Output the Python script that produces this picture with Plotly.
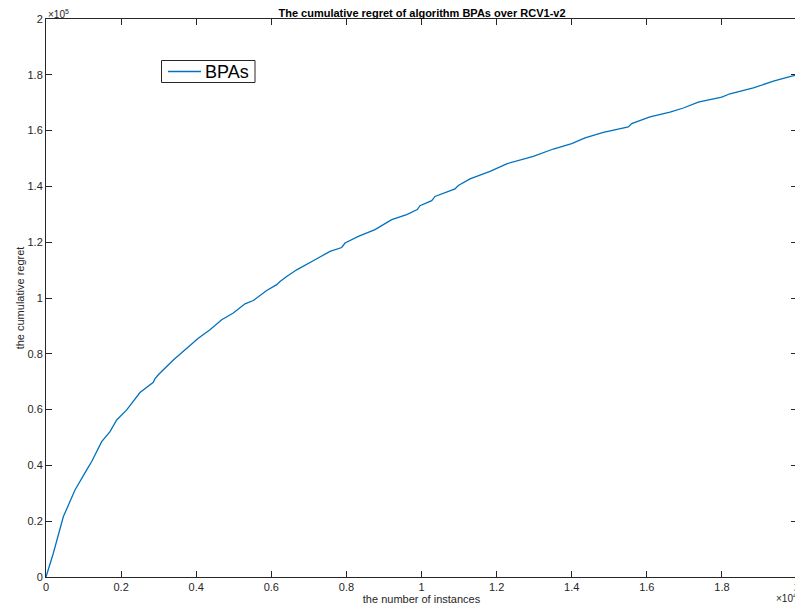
import plotly.graph_objects as go

# number of instances
instances = [0, 195, 461, 772, 1084, 1217, 1483, 1704, 1883, 2149, 2503, 2858, 2900, 2991,
             3391, 3747, 4056, 4367, 4679, 4988, 5300, 5521, 5877, 6144, 6232, 6410, 6676,
             7164, 7563, 7875, 7963, 8318, 8762, 9206, 9606, 9889, 9960, 10272, 10360,
             10892, 10981, 11292, 11825, 12269, 12977, 13511, 14000, 14355, 14843, 15508,
             15597, 16085, 16618, 16973, 17372, 17995, 18217, 18838, 19371, 19860, 20000]
# cumulative regret
regret = [0, 8500, 21600, 31200, 38400, 41400, 48500, 52100, 56300, 59900, 66100, 69800, 71000, 72500,
          77800, 82000, 85600, 88600, 92200, 94600, 97900, 99100, 102700, 104800, 105900, 107700, 110100,
          113700, 116700, 118100, 119700, 122100, 124500, 128100, 129900, 131700, 133100, 134900, 136400,
          139100, 140300, 142700, 145400, 148100, 150800, 153400, 155300, 157400, 159400, 161300,
          162500, 164900, 166600, 168100, 170200, 172000, 173200, 175300, 177700, 179500, 180000]

x_tickvals = [0, 2000, 4000, 6000, 8000, 10000, 12000, 14000, 16000, 18000, 20000]
x_ticktext = ["0", "0.2", "0.4", "0.6", "0.8", "1", "1.2", "1.4", "1.6", "1.8", "2"]
y_tickvals = [0, 20000, 40000, 60000, 80000, 100000, 120000, 140000, 160000, 180000, 200000]
y_ticktext = ["0", "0.2", "0.4", "0.6", "0.8", "1", "1.2", "1.4", "1.6", "1.8", "2"]
series_name = "BPAs"

FONT = "Liberation Sans, Arial, Helvetica, sans-serif"
AX = "#262626"
LINE = "#0072BD"

# The page body has an 8px margin, so the figure is drawn 8px in from the window edge.
W, H = 795, 602
ML, MR, MT, MB = 38, 6, 11, 33
PW, PH = W - ML - MR, H - MT - MB


def px(xp):  # window pixel x -> paper x
    return (xp - 8 - ML) / PW


def py(yp):  # window pixel y -> paper y
    return 1 - (yp - 8 - MT) / PH


fig = go.Figure()
fig.add_trace(go.Scatter(x=instances, y=regret, mode="lines", name=series_name,
                         line=dict(color=LINE, width=1.3), showlegend=False))

axis_common = dict(showline=True, linecolor=AX, linewidth=1, mirror="ticks",
                   ticks="inside", ticklen=6, tickcolor=AX, tickwidth=1,
                   showgrid=False, zeroline=False, automargin=False,
                   tickfont=dict(family=FONT, size=11, color=AX),
                   tickmode="array")

fig.update_layout(
    width=W, height=H,
    paper_bgcolor="white", plot_bgcolor="white",
    margin=dict(l=ML, r=MR, t=MT, b=MB, autoexpand=False),
    title=dict(text="<b>The cumulative regret of algorithm BPAs over RCV1-v2</b>",
               x=(422 - 8) / W, xref="container", xanchor="center",
               y=1 - (13 - 8) / H, yref="container", yanchor="middle", automargin=False,
               font=dict(family=FONT, size=11, color="black")),
    xaxis=dict(range=[0, 20000], tickvals=x_tickvals, ticktext=x_ticktext,
               title=dict(text="the number of instances", standoff=0,
                          font=dict(family=FONT, size=11, color=AX)),
               **axis_common),
    yaxis=dict(range=[0, 200000], tickvals=y_tickvals, ticktext=y_ticktext,
               title=dict(text="the cumulative regret", standoff=0,
                          font=dict(family=FONT, size=11, color=AX)),
               **axis_common),
    showlegend=False,
)

# legend box drawn by hand (MATLAB-style compact legend)
fig.add_shape(type="rect", xref="paper", yref="paper",
              x0=px(161.5), x1=px(255), y0=py(82.5), y1=py(60.5),
              line=dict(color=AX, width=1), fillcolor="white", layer="above")
fig.add_shape(type="line", xref="paper", yref="paper",
              x0=px(168), x1=px(201), y0=py(71.5), y1=py(71.5),
              line=dict(color=LINE, width=1.3), layer="above")
fig.add_annotation(text=series_name, xref="paper", yref="paper", x=px(203), y=py(72),
                   xanchor="left", yanchor="middle", showarrow=False,
                   font=dict(family=FONT, size=18, color="black"))

fig.add_annotation(text="×10<sup>5</sup>", xref="paper", yref="paper", x=0, y=1,
                   xanchor="left", yanchor="bottom", showarrow=False,
                   font=dict(family=FONT, size=10, color=AX), yshift=-3)
fig.add_annotation(text="×10<sup>4</sup>", xref="paper", yref="paper", x=1, y=0,
                   xanchor="right", yanchor="top", showarrow=False,
                   font=dict(family=FONT, size=10, color=AX), yshift=-13, xshift=2)

fig.write_html("out.html")
